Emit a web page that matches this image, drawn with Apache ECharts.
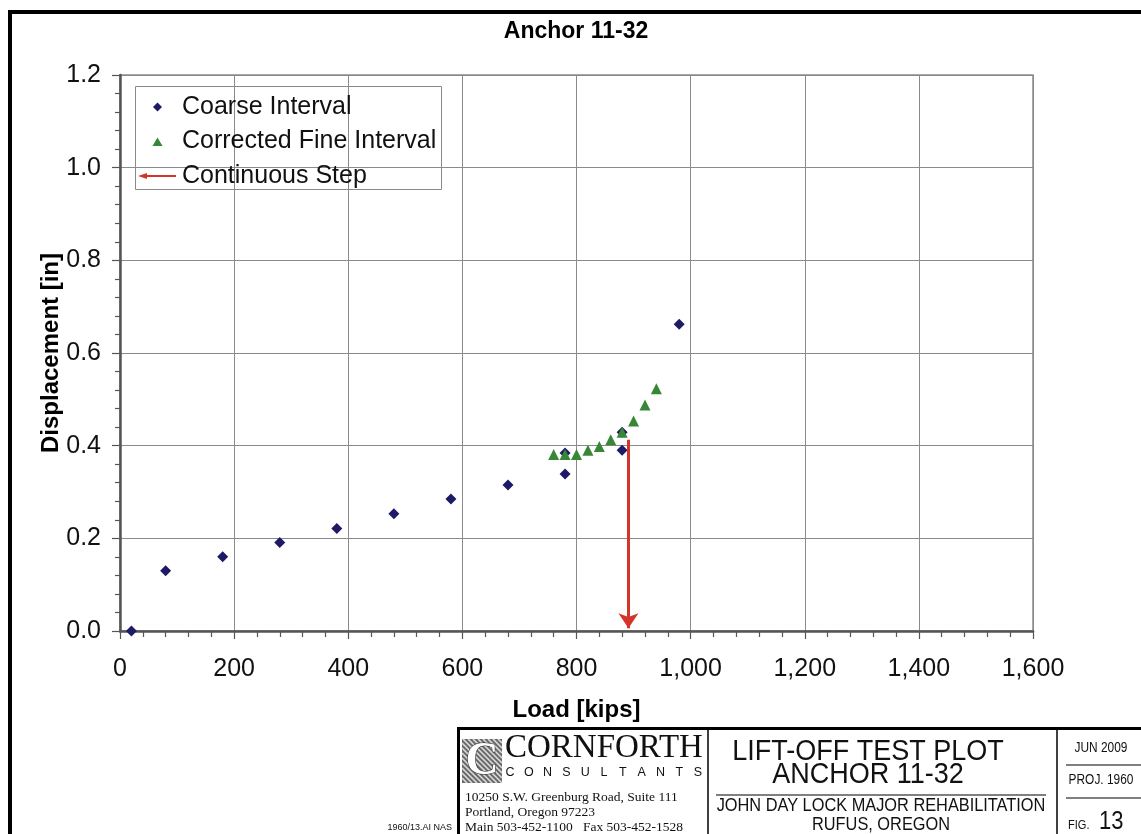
<!DOCTYPE html>
<html>
<head>
<meta charset="utf-8">
<script src="https://cdn.jsdelivr.net/npm/echarts@6/dist/echarts.min.js"></script>
<style>
html,body{margin:0;padding:0;background:#fff;}
#chart{width:1141px;height:834px;}
</style>
</head>
<body>
<div id="chart"></div>
<script>
// ---- data ----
var coarseLoad = [20, 80, 180, 280, 380, 480, 580, 680, 780, 780, 880, 880, 980];
var coarseDisp = [0.000, 0.130, 0.160, 0.191, 0.221, 0.253, 0.285, 0.315, 0.339, 0.384, 0.390, 0.429, 0.662];
var fineLoad = [760, 780, 800, 820, 840, 860, 880, 900, 920, 940];
var fineDisp = [0.381, 0.381, 0.381, 0.390, 0.398, 0.413, 0.429, 0.453, 0.488, 0.523];
var stepLoad = [891, 891];
var stepDisp = [0.413, 0.006];
var xTicks = [0, 200, 400, 600, 800, 1000, 1200, 1400, 1600];
var yTicks = [0.0, 0.2, 0.4, 0.6, 0.8, 1.0, 1.2];
var seriesNames = ['Coarse Interval', 'Corrected Fine Interval', 'Continuous Step'];
var chartTitle = 'Anchor 11-32';
var xName = 'Load [kips]';
var yName = 'Displacement [in]';

var coarseData = coarseLoad.map(function (x, i) { return [x, coarseDisp[i]]; });
var fineData = fineLoad.map(function (x, i) { return [x, fineDisp[i]]; });
var stepCoords = stepLoad.map(function (x, i) { return [x, stepDisp[i]]; });

var SANS = "'Liberation Sans', Arial, sans-serif";
var SERIF = "'Liberation Serif', 'Times New Roman', serif";
var NAVY = '#1e1a66';
var GREEN = '#378737';
var RED = '#d4352b';

function fmtX(v) { return v >= 1000 ? Math.floor(v / 1000) + ',' + ('00' + (v % 1000)).slice(-3) : String(v); }

// condensed text helper for the title block
function ntext(x, y, txt, size, sx, align) {
  return {type: 'text', x: x, y: y, scaleX: sx, silent: true,
    style: {x: 0, y: 0, text: txt, font: size + 'px ' + SANS, fill: '#111', align: align || 'center', verticalAlign: 'middle'}};
}

var graphics = [
  // page frame
  {type: 'rect', shape: {x: 8, y: 10, width: 1133, height: 4}, style: {fill: '#000'}, silent: true},
  {type: 'rect', shape: {x: 8, y: 10, width: 4, height: 824}, style: {fill: '#000'}, silent: true},
  // legend box
  {type: 'rect', shape: {x: 135.5, y: 86.5, width: 306, height: 103}, style: {fill: 'none', stroke: '#8a8a8a', lineWidth: 1}, silent: true, z: 5},
  // title block
  {type: 'rect', shape: {x: 457, y: 727, width: 684, height: 3}, style: {fill: '#000'}, silent: true},
  {type: 'rect', shape: {x: 457, y: 727, width: 3, height: 107}, style: {fill: '#000'}, silent: true},
  {type: 'line', shape: {x1: 708, y1: 729, x2: 708, y2: 834}, style: {stroke: '#000', lineWidth: 1.5}, silent: true},
  {type: 'line', shape: {x1: 1057, y1: 729, x2: 1057, y2: 834}, style: {stroke: '#000', lineWidth: 1.5}, silent: true},
  {type: 'line', shape: {x1: 716, y1: 795, x2: 1046, y2: 795}, style: {stroke: '#000', lineWidth: 1}, silent: true},
  {type: 'line', shape: {x1: 1066, y1: 765, x2: 1141, y2: 765}, style: {stroke: '#000', lineWidth: 1}, silent: true},
  {type: 'line', shape: {x1: 1066, y1: 798, x2: 1141, y2: 798}, style: {stroke: '#000', lineWidth: 1}, silent: true},
  // logo
  {type: 'rect', shape: {x: 462, y: 739, width: 40, height: 44}, style: {fill: '#6b6b6b'}, silent: true}
];
// logo hatch (decoration)
(function () {
  var x0 = 462, y0 = 739, w = 40, h = 44;
  for (var k = -h; k < w; k += 5) {
    var ax = x0 + Math.max(k, 0), ay = y0 + Math.max(-k, 0);
    var len = Math.min(w - Math.max(k, 0), h - Math.max(-k, 0));
    graphics.push({type: 'line', silent: true, shape: {x1: ax, y1: ay, x2: ax + len, y2: ay + len},
      style: {stroke: (k / 5) % 2 === 0 ? '#222' : '#ddd', lineWidth: 1.6}});
  }
})();
graphics.push(
  {type: 'text', style: {x: 482, y: 762, text: 'C', font: 'bold 46px ' + SERIF, fill: '#fff', stroke: '#222', lineWidth: 1, align: 'center', verticalAlign: 'middle'}, silent: true},
  {type: 'text', style: {x: 505, y: 765, text: 'CORNFORTH', font: '33px ' + SERIF, fill: '#111', align: 'left', verticalAlign: 'bottom'}, silent: true},
  {type: 'text', style: {x: 465, y: 797, text: '10250 S.W. Greenburg Road, Suite 111', font: '13.5px ' + SERIF, fill: '#111', verticalAlign: 'middle'}, silent: true},
  {type: 'text', style: {x: 465, y: 812, text: 'Portland, Oregon 97223', font: '13.5px ' + SERIF, fill: '#111', verticalAlign: 'middle'}, silent: true},
  {type: 'text', style: {x: 465, y: 827, text: 'Main 503-452-1100   Fax 503-452-1528', font: '13.5px ' + SERIF, fill: '#111', verticalAlign: 'middle'}, silent: true},
  {type: 'text', style: {x: 452, y: 828, text: '1960/13.AI NAS', font: '9px ' + SANS, fill: '#111', align: 'right', verticalAlign: 'middle'}, silent: true},
  ntext(868, 752, 'LIFT-OFF TEST PLOT', 30, 0.9),
  ntext(868, 775, 'ANCHOR 11-32', 30, 0.9),
  ntext(881, 806, 'JOHN DAY LOCK MAJOR REHABILITATION', 19, 0.86),
  ntext(881, 825, 'RUFUS, OREGON', 19, 0.86),
  ntext(1101, 748, 'JUN 2009', 14, 0.85),
  ntext(1101, 780, 'PROJ. 1960', 14, 0.85),
  ntext(1068, 825, 'FIG.', 13, 0.85, 'left'),
  ntext(1099, 822, '13', 25, 0.88, 'left')
);
var consult = 'CONSULTANTS'.split('');
consult.forEach(function (ch, i) {
  graphics.push({type: 'text', silent: true, style: {x: 510 + i * 18.8, y: 773, text: ch, font: '12.5px ' + SANS, fill: '#111', align: 'center', verticalAlign: 'middle'}});
});

var chart = echarts.init(document.getElementById('chart'), null, {renderer: 'canvas'});
chart.setOption({
  backgroundColor: '#fff',
  animation: false,
  title: {
    text: chartTitle, left: 571, top: 15, textAlign: 'center',
    textStyle: {fontFamily: SANS, fontWeight: 'bold', fontSize: 23, color: '#000'}
  },
  legend: {
    orient: 'vertical', left: 138, top: 94.5, padding: 0, itemGap: 9.5,
    itemWidth: 39, itemHeight: 10, selectedMode: false,
    textStyle: {fontFamily: SANS, fontSize: 25, color: '#111'},
    data: [
      {name: seriesNames[0], icon: 'path://M0,0 L0,0 M39,10 L39,10 M19.5,0.5 L24,5 L19.5,9.5 L15,5 Z', itemStyle: {color: NAVY, borderWidth: 0}},
      {name: seriesNames[1], icon: 'path://M0,0 L0,0 M39,10 L39,10 M19.5,1 L24.5,9.5 L14.5,9.5 Z', itemStyle: {color: GREEN, borderWidth: 0}},
      {name: seriesNames[2], icon: 'path://M0,0 L0,0 M39,10 L39,10 M0,5 L9,2 L9,4 L38,4 L38,6 L9,6 L9,8 Z', itemStyle: {color: RED, borderWidth: 0}}
    ]
  },
  grid: {left: 120, right: 108, top: 75, bottom: 203, show: true, borderColor: '#8a8a8a', borderWidth: 1.5},
  xAxis: {
    type: 'value', min: xTicks[0], max: xTicks[xTicks.length - 1], interval: xTicks[1] - xTicks[0],
    name: xName, nameLocation: 'middle', nameGap: 67,
    nameTextStyle: {fontFamily: SANS, fontWeight: 'bold', fontSize: 24, color: '#000'},
    axisLine: {show: true, onZero: false, lineStyle: {color: '#555', width: 2.5}},
    axisTick: {show: true, inside: false, length: 8, lineStyle: {color: '#555', width: 1.2}},
    minorTick: {show: true, splitNumber: 5, length: 6, lineStyle: {color: '#555', width: 1.2}},
    splitLine: {show: true, lineStyle: {color: '#8a8a8a', width: 1}},
    axisLabel: {margin: 26, fontFamily: SANS, fontSize: 25, color: '#111', formatter: fmtX}
  },
  yAxis: {
    type: 'value', min: yTicks[0], max: yTicks[yTicks.length - 1], interval: 0.2,
    name: yName, nameLocation: 'middle', nameGap: 57, nameRotate: 90, nameMoveOverlap: false,
    nameTextStyle: {fontFamily: SANS, fontWeight: 'bold', fontSize: 24, color: '#000'},
    axisLine: {show: true, onZero: false, lineStyle: {color: '#555', width: 2.5}},
    axisTick: {show: true, inside: false, length: 8, lineStyle: {color: '#555', width: 1.2}},
    minorTick: {show: true, splitNumber: 5, length: 5, lineStyle: {color: '#555', width: 1.2}},
    splitLine: {show: true, lineStyle: {color: '#8a8a8a', width: 1}},
    axisLabel: {margin: 19, fontFamily: SANS, fontSize: 25, color: '#111', formatter: function (v) { return v.toFixed(1); }}
  },
  graphic: graphics,
  series: [
    {
      name: seriesNames[1], type: 'scatter', data: fineData, symbol: 'triangle', symbolSize: 11,
      itemStyle: {color: GREEN, opacity: 1}, z: 3
    },
    {
      name: seriesNames[0], type: 'scatter', data: coarseData, symbol: 'diamond', symbolSize: 11,
      itemStyle: {color: NAVY, opacity: 1}, z: 2
    },
    {
      name: seriesNames[2], type: 'lines', coordinateSystem: 'cartesian2d',
      data: [{coords: stepCoords}], symbol: ['none', 'arrow'], symbolSize: [8, 15],
      lineStyle: {color: RED, width: 3, opacity: 1}, itemStyle: {color: RED}, z: 4
    }
  ]
});
</script>
</body>
</html>
